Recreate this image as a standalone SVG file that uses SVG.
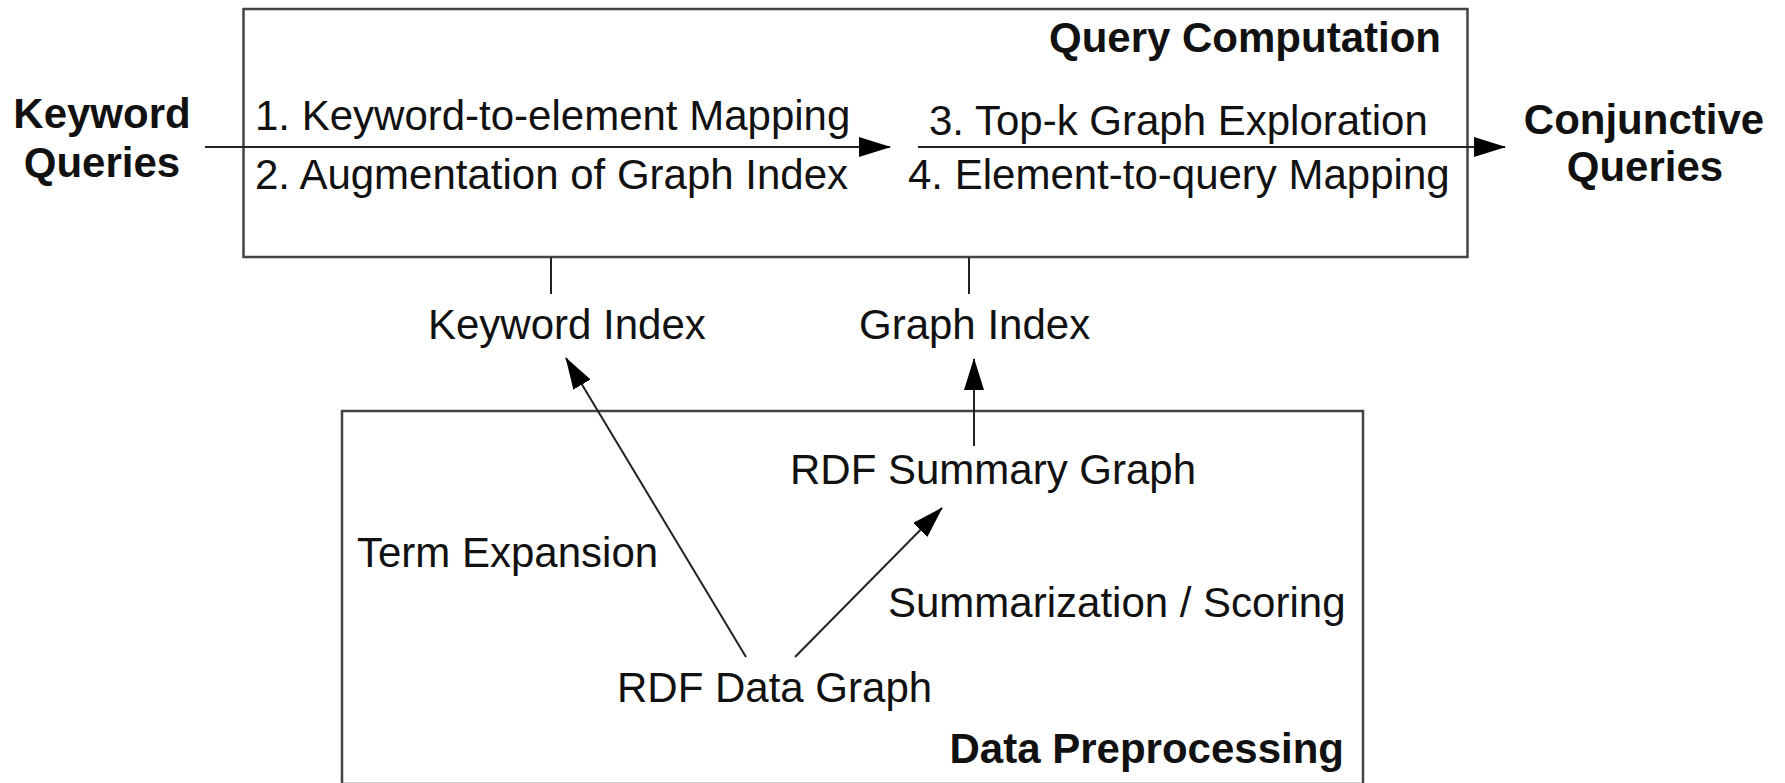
<svg xmlns="http://www.w3.org/2000/svg" width="1785" height="783" viewBox="0 0 1785 783">
  <defs>
    <marker id="arrow" markerUnits="userSpaceOnUse" markerWidth="34" markerHeight="22" refX="31" refY="10" orient="auto">
      <path d="M0,0 L32,10 L0,20 z" fill="#000"/>
    </marker>
    <style>
      .box { fill: #fff; stroke: #444; stroke-width: 2.5; }
      .line { stroke: #222; stroke-width: 2; fill: none; }
      .arr { stroke: #222; stroke-width: 2; fill: none; marker-end: url(#arrow); }
      text { font-family: "Liberation Sans", Arial, sans-serif; font-size: 42px; fill: #111; }
      .b { font-weight: bold; }
    </style>
  </defs>
  <rect width="1785" height="783" fill="#fff"/>

  <g id="query-computation">
    <rect class="box" x="243.5" y="9" width="1224" height="248"/>
    <text class="b" x="1441" y="52" text-anchor="end">Query Computation</text>
    <text x="255" y="130">1. Keyword-to-element Mapping</text>
    <text x="255" y="189">2. Augmentation of Graph Index</text>
    <text x="929" y="135">3. Top-k Graph Exploration</text>
    <text x="908" y="189">4. Element-to-query Mapping</text>
  </g>

  <g id="data-preprocessing">
    <rect class="box" x="342" y="411" width="1021" height="373"/>
    <text class="b" x="1344" y="763" text-anchor="end">Data Preprocessing</text>
  </g>

  <g id="keyword-queries">
    <text class="b" x="102" y="128" text-anchor="middle">Keyword</text>
    <text class="b" x="102" y="177" text-anchor="middle">Queries</text>
  </g>

  <g id="conjunctive-queries">
    <text class="b" x="1644" y="134" text-anchor="middle">Conjunctive</text>
    <text class="b" x="1645" y="181" text-anchor="middle">Queries</text>
  </g>

  <g id="keyword-index">
    <text x="428" y="339">Keyword Index</text>
  </g>
  <g id="graph-index">
    <text x="859" y="339">Graph Index</text>
  </g>
  <g id="rdf-summary-graph">
    <text x="790" y="484">RDF Summary Graph</text>
  </g>
  <g id="rdf-data-graph">
    <text x="617" y="702">RDF Data Graph</text>
  </g>
  <g id="edge-labels">
    <text x="357" y="567">Term Expansion</text>
    <text x="888" y="617">Summarization / Scoring</text>
  </g>

  <g id="connectors">
    <line class="arr" x1="205" y1="147" x2="890" y2="147"/>
    <line class="arr" x1="918" y1="147" x2="1505" y2="147"/>
    <line class="line" x1="551" y1="257" x2="551" y2="294"/>
    <line class="line" x1="969" y1="257" x2="969" y2="294"/>
    <line class="arr" x1="746" y1="657" x2="566" y2="358"/>
    <line class="arr" x1="974" y1="446" x2="974" y2="359"/>
    <line class="arr" x1="795" y1="657" x2="942" y2="508"/>
  </g>
</svg>
